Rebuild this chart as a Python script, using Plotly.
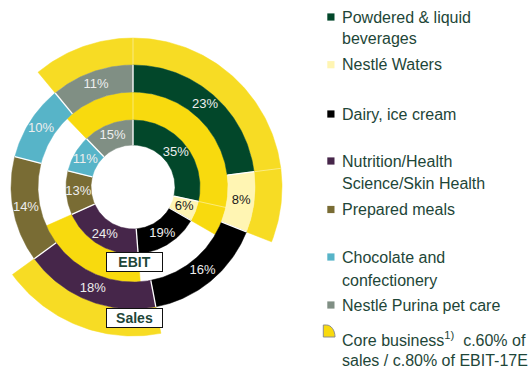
import numpy as np
import plotly.graph_objects as go

# ---------------- data ----------------
categories = ["Powdered & liquid beverages", "Nestlé Waters", "Dairy, ice cream",
              "Nutrition/Health Science/Skin Health", "Prepared meals",
              "Chocolate and confectionery", "Nestlé Purina pet care"]
legend_lines = [["Powdered & liquid", "beverages"], ["Nestlé Waters"], ["Dairy, ice cream"],
                ["Nutrition/Health", "Science/Skin Health"], ["Prepared meals"],
                ["Chocolate and", "confectionery"], ["Nestlé Purina pet care"]]
sales_pct = [23, 8, 16, 18, 14, 10, 11]
ebit_pct = [35, 6, 19, 24, 13, 11, 15]
core = [True, True, False, True, False, False, True]
core_lines = ["Core business<sup>1)</sup>  c.60% of", "sales / c.80% of EBIT-17E"]
ring_captions = ["EBIT", "Sales"]

# ---------------- styles / layout constants ----------------
colors = ["#02472A", "#FFF5B3", "#000000", "#46264A", "#796C34", "#57B4C8", "#808F84"]
label_colors = ["#EEEEEE", "#1A1A1A", "#EEEEEE", "#EEEEEE", "#EEEEEE", "#EEEEEE", "#EEEEEE"]
yellow_outer = "#F7DC24"
yellow_inner = "#F8DA0E"
text_green = "#1E4638"
FONT = "Liberation Sans, Arial"
W, H = 529, 376
CX, CY = 133, 187                      # ring centre in px from top-left
R_HOLE, R_EBIT, R_BAND1, R_SALES, R_BAND2 = 42, 67, 95, 122, 149
R_LBL_SALES, R_LBL_EBIT = 109, 55


def spans(vals):
    v = np.asarray(vals, dtype=float)
    width = v / v.sum() * 360.0
    start = np.concatenate([[0.0], np.cumsum(width)[:-1]])
    return start, start + width


def arc_poly(a0, a1, r0, r1):
    n = max(int(np.ceil(a1 - a0)), 2)
    t = np.radians(np.linspace(a0, a1, n + 1))
    x = np.concatenate([r1 * np.sin(t), r0 * np.sin(t[::-1])])
    y = np.concatenate([r1 * np.cos(t), r0 * np.cos(t[::-1])])
    return list(x) + [x[0]], list(y) + [y[0]]


def join(polys):
    xs, ys = [], []
    for k, (x, y) in enumerate(polys):
        if k:
            xs.append(None)
            ys.append(None)
        xs += x
        ys += y
    return xs, ys


s0, s1 = spans(sales_pct)
e0, e1 = spans(ebit_pct)

fig = go.Figure()

# core business yellow bands
for (a0, a1, r0, r1, col) in [(s0, s1, R_SALES, R_BAND2, yellow_outer), (e0, e1, R_EBIT, R_BAND1, yellow_inner)]:
    xs, ys = join([arc_poly(a0[i], a1[i], r0, r1) for i, c in enumerate(core) if c])
    fig.add_trace(go.Scatter(x=xs, y=ys, fill="toself", fillcolor=col, mode="lines",
                             line=dict(width=0.5, color=col), name="Core business",
                             hoverinfo="skip", showlegend=False))

# segments: sales ring + EBIT ring
for i, cat in enumerate(categories):
    xs, ys = join([arc_poly(s0[i], s1[i], R_BAND1, R_SALES), arc_poly(e0[i], e1[i], R_HOLE, R_EBIT)])
    fig.add_trace(go.Scatter(x=xs, y=ys, fill="toself", fillcolor=colors[i], mode="lines",
                             line=dict(width=0.5, color=colors[i]), name=cat,
                             hoverinfo="skip", showlegend=False))

# white separators between segments
sep_x, sep_y, faint_x, faint_y = [], [], [], []
n = len(categories)
for a_start, r0, r1, rb0, rb1 in [(s0, R_BAND1, R_SALES, R_SALES, R_BAND2), (e0, R_HOLE, R_EBIT, R_EBIT, R_BAND1)]:
    for i in range(n):
        t = np.radians(a_start[i])
        sep_x += [r0 * np.sin(t), r1 * np.sin(t), None]
        sep_y += [r0 * np.cos(t), r1 * np.cos(t), None]
        if core[i] and core[i - 1]:
            faint_x += [rb0 * np.sin(t), rb1 * np.sin(t), None]
            faint_y += [rb0 * np.cos(t), rb1 * np.cos(t), None]
fig.add_trace(go.Scatter(x=sep_x, y=sep_y, mode="lines", line=dict(color="white", width=1.3),
                         hoverinfo="skip", showlegend=False))
fig.add_trace(go.Scatter(x=faint_x, y=faint_y, mode="lines",
                         line=dict(color="rgba(255,255,255,0.55)", width=0.8),
                         hoverinfo="skip", showlegend=False))

# percentage labels
sm = np.radians((s0 + s1) / 2)
em = np.radians((e0 + e1) / 2)
fig.add_trace(go.Scatter(
    x=list(R_LBL_SALES * np.sin(sm)) + list(R_LBL_EBIT * np.sin(em)),
    y=list(R_LBL_SALES * np.cos(sm)) + list(R_LBL_EBIT * np.cos(em)),
    text=[f"{v}%" for v in sales_pct] + [f"{v}%" for v in ebit_pct],
    mode="text", textposition="middle center", cliponaxis=False,
    textfont=dict(family=FONT, size=13, color=label_colors + label_colors),
    hoverinfo="skip", showlegend=False))

annotations = []
shapes = []


def px(x):
    return x / W


def py(y):
    return 1 - y / H


# ring captions
for txt, yc in zip(ring_captions, [262.3, 318]):
    annotations.append(dict(x=px(134), y=py(yc), xref="paper", yref="paper", text=f"<b>{txt}</b>",
                            xanchor="center", yanchor="middle",
                            showarrow=False, width=55, height=18, borderpad=0, borderwidth=1,
                            bordercolor="#111111", bgcolor="white",
                            font=dict(family=FONT, size=14, color=text_green)))

# legend
LEG_SIZE = 16
swatch_y = [17, 64.7, 114, 161, 209.5, 257, 305]
line_y = [[17, 38.6], [64.7], [114], [161.5, 183], [209.5], [257.3, 280], [305]]
for i in range(n):
    shapes.append(dict(type="rect", xref="paper", yref="paper",
                       x0=px(327.3), x1=px(334.5), y0=py(swatch_y[i] + 3.6), y1=py(swatch_y[i] - 3.6),
                       fillcolor=colors[i], line=dict(width=0)))
    for t, yy in zip(legend_lines[i], line_y[i]):
        annotations.append(dict(x=px(340), y=py(yy), xref="paper", yref="paper", text=t,
                                showarrow=False, xanchor="left", yanchor="middle",
                                font=dict(family=FONT, size=LEG_SIZE, color=text_green)))

for t, yy in zip(core_lines, [338.5, 360.5]):
    annotations.append(dict(x=px(340), y=py(yy), xref="paper", yref="paper", text=t,
                            showarrow=False, xanchor="left", yanchor="middle",
                            font=dict(family=FONT, size=LEG_SIZE, color=text_green)))

# core business icon (quarter pie)
x0, x1, yt, yb = px(323.3), px(335), py(325), py(337)
shapes.append(dict(type="path", xref="paper", yref="paper",
                   path=(f"M {x0},{yb} L {x0},{yt} L {px(326.5)},{yt} "
                         f"C {px(331)},{yt} {x1},{py(330)} {x1},{yb} Z"),
                   fillcolor=yellow_inner, line=dict(color="#8C8C8C", width=1)))

fig.update_layout(
    width=W, height=H, margin=dict(l=0, r=0, t=0, b=0),
    paper_bgcolor="white", plot_bgcolor="white",
    xaxis=dict(range=[-CX, W - CX], visible=False, fixedrange=True),
    yaxis=dict(range=[CY - H, CY], visible=False, fixedrange=True),
    annotations=annotations, shapes=shapes, showlegend=False,
)

fig.write_html("out.html")
